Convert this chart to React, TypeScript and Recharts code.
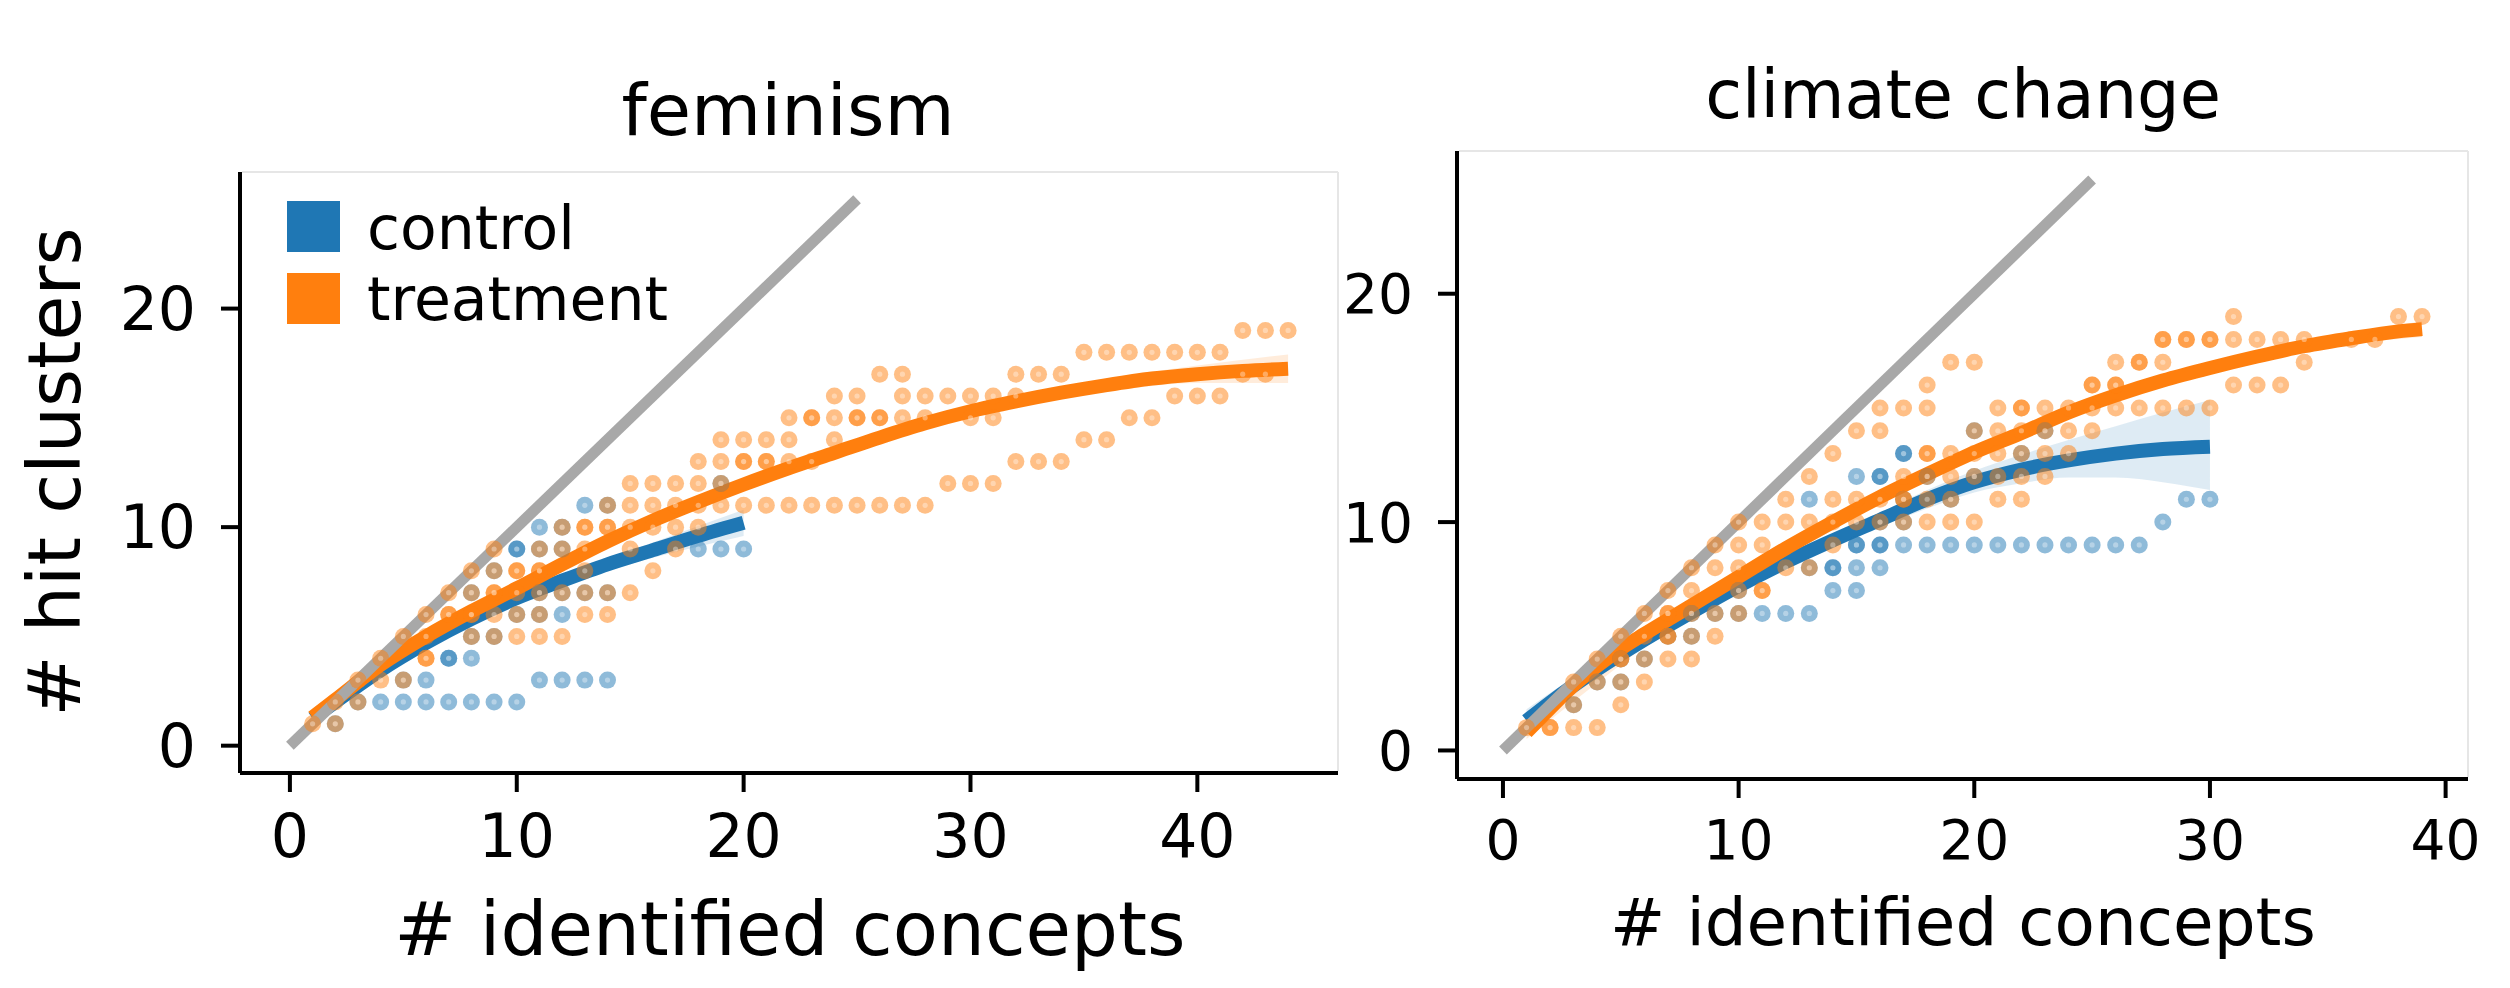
import React from 'react';
import { ComposedChart, XAxis, YAxis, Scatter, Line, Area } from 'recharts';

// ---------- tick labels ----------
const xTicks = [0, 10, 20, 30, 40];
const yTicks = [0, 10, 20];

// ---------- feminism: observed points [concepts, clusters] ----------
const femControlPoints = [
  [2, 1], [3, 2], [4, 2], [5, 2], [6, 2], [7, 2], [8, 2], [9, 2], [10, 2],
  [5, 3], [6, 3], [11, 3], [12, 3], [13, 3], [14, 3],
  [7, 4], [7, 4], [8, 4],
  [8, 5], [9, 5],
  [10, 6], [11, 6], [12, 6],
  [8, 7], [11, 7], [12, 7], [13, 7], [14, 7],
  [9, 8],
  [10, 9], [10, 9], [11, 9], [12, 9], [18, 9], [19, 9], [20, 9],
  [11, 10], [12, 10],
  [13, 11], [14, 11],
  [19, 12],
];
const femTreatPoints = [
  [1, 1], [2, 1],
  [2, 2], [3, 2],
  [3, 3], [4, 3], [5, 3],
  [4, 4], [6, 4], [6, 4],
  [5, 5], [6, 5], [8, 5], [9, 5], [10, 5], [11, 5], [12, 5],
  [6, 6], [7, 6], [7, 6], [8, 6], [8, 6], [9, 6], [10, 6], [11, 6], [13, 6], [14, 6],
  [7, 7], [8, 7], [9, 7], [9, 7], [10, 7], [11, 7], [12, 7], [13, 7], [14, 7], [15, 7],
  [8, 8], [9, 8], [10, 8], [10, 8], [11, 8], [11, 8], [13, 8], [16, 8],
  [9, 9], [11, 9], [12, 9], [13, 9], [15, 9], [17, 9],
  [12, 10], [13, 10], [13, 10], [14, 10], [14, 10], [15, 10], [16, 10], [17, 10], [18, 10],
  [14, 11], [15, 11], [16, 11], [17, 11], [18, 11], [19, 11], [20, 11], [21, 11], [22, 11],
  [23, 11], [24, 11], [25, 11], [26, 11], [27, 11], [28, 11],
  [15, 12], [16, 12], [17, 12], [18, 12], [19, 12], [29, 12], [30, 12], [31, 12],
  [18, 13], [19, 13], [20, 13], [20, 13], [21, 13], [21, 13], [22, 13], [23, 13], [32, 13], [33, 13], [34, 13],
  [19, 14], [20, 14], [21, 14], [22, 14], [24, 14], [35, 14], [36, 14],
  [22, 15], [23, 15], [23, 15], [24, 15], [25, 15], [25, 15], [26, 15], [26, 15], [27, 15], [28, 15],
  [30, 15], [31, 15], [37, 15], [38, 15],
  [24, 16], [25, 16], [27, 16], [28, 16], [29, 16], [30, 16], [31, 16], [32, 16], [39, 16], [40, 16], [41, 16],
  [26, 17], [27, 17], [32, 17], [33, 17], [34, 17], [42, 17], [43, 17],
  [35, 18], [36, 18], [37, 18], [38, 18], [39, 18], [40, 18], [41, 18],
  [42, 19], [43, 19], [44, 19],
];
// feminism: fitted curves and confidence bands
const femControlFit = [
  [1, 1.25], [2, 2.0], [4, 3.45], [6, 4.7], [8, 5.8], [10, 6.75], [12, 7.55], [14, 8.3], [16, 8.95], [18, 9.6], [20, 10.2],
];
const femTreatFit = [
  [1, 1.3], [2, 2.1], [4, 3.7], [6, 5.0], [8, 6.15], [10, 7.2], [12, 8.3], [14, 9.35], [16, 10.3], [18, 11.15],
  [20, 11.95], [22, 12.7], [24, 13.4], [26, 14.1], [28, 14.75], [30, 15.3], [32, 15.75], [34, 16.15], [36, 16.5],
  [38, 16.8], [40, 17.0], [42, 17.15], [44, 17.25],
];
const femControlBand = [
  [1, 0.8, 1.7], [4, 3.2, 3.7], [8, 5.6, 6.0], [12, 7.35, 7.75], [16, 8.6, 9.3], [20, 9.6, 10.8],
];
const femTreatBand = [
  [1, 1.0, 1.6], [10, 7.05, 7.35], [20, 11.8, 12.1], [30, 15.1, 15.5], [36, 16.2, 16.8], [40, 16.6, 17.4], [44, 16.6, 17.9],
];

// ---------- climate change ----------
const climControlPoints = [
  [3, 2], [4, 3], [5, 3], [5, 4], [6, 4], [7, 5], [8, 5], [8, 6], [9, 6], [10, 6], [11, 6], [12, 6], [13, 6],
  [10, 7], [14, 7], [15, 7],
  [13, 8], [14, 8], [14, 8], [15, 8], [16, 8],
  [15, 9], [15, 9], [16, 9], [16, 9], [17, 9], [18, 9], [19, 9], [20, 9], [21, 9], [22, 9], [23, 9], [24, 9],
  [25, 9], [26, 9], [27, 9],
  [16, 10], [17, 10], [28, 10],
  [13, 11], [17, 11], [19, 11], [29, 11], [30, 11],
  [15, 12], [16, 12], [16, 12], [18, 12], [20, 12],
  [17, 13], [17, 13], [22, 13],
  [20, 14], [23, 14],
];
const climTreatPoints = [
  [1, 1], [2, 1], [2, 1], [3, 1], [4, 1],
  [3, 2], [5, 2],
  [3, 3], [4, 3], [5, 3], [6, 3],
  [4, 4], [5, 4], [5, 4], [6, 4], [7, 4], [8, 4],
  [5, 5], [6, 5], [7, 5], [7, 5], [8, 5], [9, 5],
  [6, 6], [7, 6], [7, 6], [8, 6], [9, 6], [10, 6],
  [7, 7], [8, 7], [10, 7], [11, 7], [11, 7],
  [8, 8], [9, 8], [10, 8], [12, 8], [13, 8],
  [9, 9], [10, 9], [11, 9], [14, 9],
  [10, 10], [11, 10], [12, 10], [13, 10], [14, 10], [15, 10], [16, 10], [17, 10], [18, 10], [19, 10], [20, 10],
  [12, 11], [14, 11], [15, 11], [16, 11], [17, 11], [17, 11], [18, 11], [19, 11], [21, 11], [22, 11],
  [13, 12], [17, 12], [18, 12], [19, 12], [20, 12], [21, 12], [22, 12], [23, 12],
  [14, 13], [18, 13], [18, 13], [19, 13], [20, 13], [21, 13], [22, 13], [23, 13], [24, 13],
  [15, 14], [16, 14], [20, 14], [21, 14], [22, 14], [23, 14], [24, 14], [25, 14],
  [16, 15], [17, 15], [18, 15], [21, 15], [22, 15], [22, 15], [23, 15], [24, 15], [25, 15], [26, 15],
  [27, 15], [28, 15], [29, 15], [30, 15],
  [18, 16], [25, 16], [25, 16], [26, 16], [26, 16], [31, 16], [32, 16], [33, 16],
  [19, 17], [20, 17], [26, 17], [27, 17], [27, 17], [28, 17], [34, 17],
  [28, 18], [28, 18], [29, 18], [29, 18], [30, 18], [30, 18], [31, 18], [32, 18], [33, 18], [34, 18], [36, 18], [37, 18],
  [31, 19], [38, 19], [39, 19],
];
const climControlFit = [
  [1, 1.3], [2, 2.1], [4, 3.55], [6, 4.85], [8, 6.05], [10, 7.2], [12, 8.25], [14, 9.2], [16, 10.1], [18, 11.0],
  [20, 11.75], [22, 12.3], [24, 12.7], [26, 13.0], [28, 13.2], [30, 13.3],
];
const climTreatFit = [
  [1, 0.8], [2, 1.85], [3, 2.85], [4, 3.7], [5, 4.45], [6, 5.1], [8, 6.35], [10, 7.6], [12, 8.85], [14, 10.0],
  [16, 11.1], [18, 12.1], [20, 13.05], [22, 13.9], [24, 14.8], [26, 15.55], [28, 16.2], [30, 16.75], [32, 17.25],
  [34, 17.7], [36, 18.05], [38, 18.35], [39, 18.45],
];
const climControlBand = [
  [1, 0.8, 1.8], [4, 3.2, 3.9], [8, 5.8, 6.3], [12, 8.0, 8.5], [14, 8.95, 9.45], [16, 9.8, 10.4], [18, 10.6, 11.4],
  [20, 11.3, 12.25], [22, 11.7, 12.95], [24, 11.95, 13.6], [26, 11.95, 14.2], [28, 11.75, 14.8], [30, 11.4, 15.35],
];
const climTreatBand = [
  [1, 0.5, 1.1], [10, 7.45, 7.75], [20, 12.9, 13.2], [30, 16.55, 16.95], [36, 17.8, 18.3], [39, 18.1, 18.8],
];

// identity reference line endpoints
const identityLine = [[0, 0], [25, 25]];

// ---------- helpers ----------
const BLUE = '#1f77b4';
const ORANGE = '#ff7f0e';
const GRAY = '#a8a8a8';
const FONT = 'DejaVu Sans';

const toXY = (arr: number[][]) => arr.map(([x, y]) => ({ x, y }));
const toBand = (arr: number[][]) => arr.map(([x, lo, hi]) => ({ x, band: [lo, hi] }));

const makeDot = (color: string) => (props: any) => {
  const { cx, cy } = props;
  if (cx == null || cy == null) return <g />;
  return (
    <g>
      <circle cx={cx} cy={cy} r={8.5} fill={color} fillOpacity={0.5} />
      <circle cx={cx} cy={cy} r={2.6} fill="#ffffff" fillOpacity={0.35} />
    </g>
  );
};

type PanelProps = {
  left: number;
  width: number;
  margin: { top: number; right: number; bottom: number; left: number };
  yAxisWidth: number;
  xDomain: [number, number];
  tickFont: number;
  control: number[][];
  treat: number[][];
  controlFit: number[][];
  treatFit: number[][];
  controlBand: number[][];
  treatBand: number[][];
};

function Panel(p: PanelProps) {
  const axisLine = { stroke: '#000', strokeWidth: 4 };
  const tick = { fontSize: p.tickFont, fill: '#000', fontFamily: FONT };
  return (
    <div style={{ position: 'absolute', left: p.left, top: 0, width: p.width, height: 988 }}>
      <ComposedChart width={p.width} height={988} margin={p.margin}>
        <XAxis
          type="number"
          dataKey="x"
          domain={p.xDomain}
          ticks={xTicks}
          interval={0}
          allowDataOverflow
          height={100}
          tickSize={19}
          tickMargin={22}
          axisLine={axisLine}
          tickLine={axisLine}
          tick={tick}
        />
        <YAxis
          type="number"
          dataKey="y"
          domain={[-1.25, 26.25]}
          ticks={yTicks}
          interval={0}
          allowDataOverflow
          width={p.yAxisWidth}
          tickSize={19}
          tickMargin={25}
          axisLine={axisLine}
          tickLine={axisLine}
          tick={tick}
        />
        <Area data={toBand(p.controlBand)} dataKey="band" type="monotone" stroke="none" fill={BLUE} fillOpacity={0.15} isAnimationActive={false} dot={false} activeDot={false} />
        <Area data={toBand(p.treatBand)} dataKey="band" type="monotone" stroke="none" fill={ORANGE} fillOpacity={0.15} isAnimationActive={false} dot={false} activeDot={false} />
        <Scatter data={toXY(p.control)} fill={BLUE} shape={makeDot(BLUE)} isAnimationActive={false} />
        <Scatter data={toXY(p.treat)} fill={ORANGE} shape={makeDot(ORANGE)} isAnimationActive={false} />
        <Line data={toXY(p.controlFit)} dataKey="y" type="monotone" stroke={BLUE} strokeWidth={14} strokeLinecap="butt" dot={false} activeDot={false} isAnimationActive={false} />
        <Line data={toXY(p.treatFit)} dataKey="y" type="monotone" stroke={ORANGE} strokeWidth={14} strokeLinecap="butt" dot={false} activeDot={false} isAnimationActive={false} />
        <Line data={toXY(identityLine)} dataKey="y" type="linear" stroke={GRAY} strokeWidth={11} strokeLinecap="butt" dot={false} activeDot={false} isAnimationActive={false} />
      </ComposedChart>
    </div>
  );
}

export default function App() {
  return (
    <div style={{ position: 'absolute', left: 0, top: 0, width: 2510, height: 988, background: '#fff', overflow: 'hidden' }}>
      <Panel
        left={0}
        width={1400}
        margin={{ top: 172, right: 62, bottom: 115, left: 40 }}
        yAxisWidth={200}
        xDomain={[-2.2, 46.2]}
        tickFont={60}
        control={femControlPoints}
        treat={femTreatPoints}
        controlFit={femControlFit}
        treatFit={femTreatFit}
        controlBand={femControlBand}
        treatBand={femTreatBand}
      />
      <Panel
        left={1300}
        width={1210}
        margin={{ top: 151, right: 42, bottom: 109, left: 27 }}
        yAxisWidth={130}
        xDomain={[-1.95, 40.95]}
        tickFont={55}
        control={climControlPoints}
        treat={climTreatPoints}
        controlFit={climControlFit}
        treatFit={climTreatFit}
        controlBand={climControlBand}
        treatBand={climTreatBand}
      />
      <svg width={2510} height={988} style={{ position: 'absolute', left: 0, top: 0, pointerEvents: 'none' }} fontFamily={FONT}>
        {/* faint top/right frame */}
        <line x1={242} y1={172} x2={1338} y2={172} stroke="#e6e6e6" strokeWidth={2} />
        <line x1={1338} y1={172} x2={1338} y2={771} stroke="#e6e6e6" strokeWidth={2} />
        <line x1={1459} y1={151} x2={2468} y2={151} stroke="#e6e6e6" strokeWidth={2} />
        <line x1={2468} y1={151} x2={2468} y2={777} stroke="#e6e6e6" strokeWidth={2} />
        {/* titles */}
        <text x={788} y={135} fontSize={72} textAnchor="middle" fill="#000">feminism</text>
        <text x={1963} y={118} fontSize={67} textAnchor="middle" fill="#000">climate change</text>
        {/* axis labels */}
        <text x={790} y={955} fontSize={74} textAnchor="middle" fill="#000"># identified concepts</text>
        <text x={1963} y={945} fontSize={66} textAnchor="middle" fill="#000"># identified concepts</text>
        <text transform="translate(80,472) rotate(-90)" fontSize={73} textAnchor="middle" fill="#000"># hit clusters</text>
        {/* legend */}
        <rect x={287} y={201} width={53} height={51} fill={BLUE} />
        <rect x={287} y={273} width={53} height={51} fill={ORANGE} />
        <text x={367} y={249} fontSize={60} fill="#000">control</text>
        <text x={367} y={320} fontSize={60} fill="#000">treatment</text>
      </svg>
    </div>
  );
}
